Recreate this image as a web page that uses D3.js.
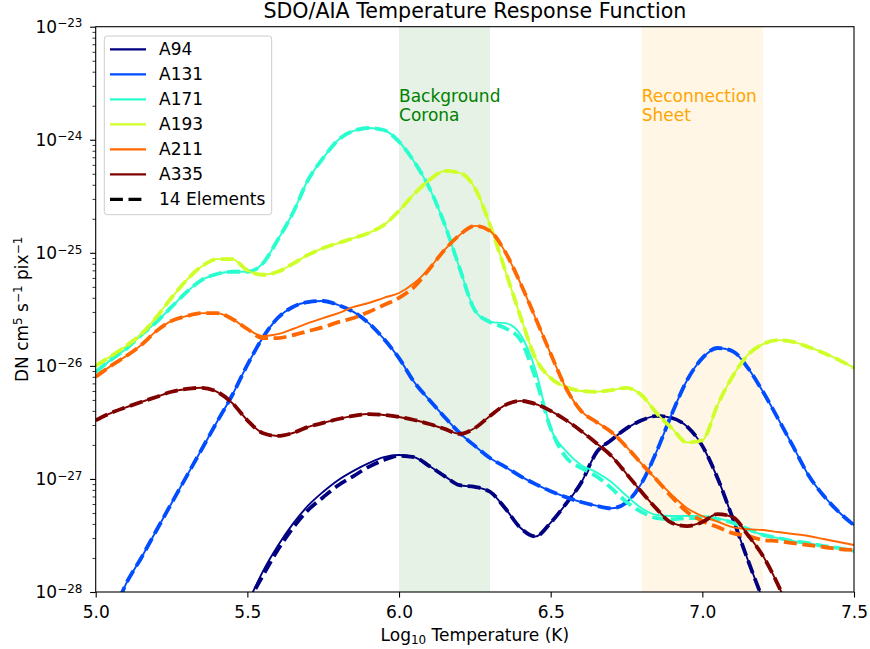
<!DOCTYPE html>
<html>
<head>
<meta charset="utf-8">
<script src="https://cdn.jsdelivr.net/npm/d3@7"></script>
<style>
  html, body { margin: 0; padding: 0; background: #fff; }
  svg { display: block; font-family: "DejaVu Sans", sans-serif; }
</style>
</head>
<body>
<svg id="chart" width="870" height="649"></svg>
<script>
// ---- Data ----
const logT = [5.00,5.05,5.10,5.15,5.20,5.25,5.30,5.35,5.40,5.45,5.50,5.55,5.60,5.65,5.70,5.75,5.80,5.85,5.90,5.95,
              6.00,6.05,6.10,6.15,6.20,6.25,6.30,6.35,6.40,6.45,6.50,6.55,6.60,6.65,6.70,6.75,6.80,6.85,6.90,6.95,
              7.00,7.05,7.10,7.15,7.20,7.25,7.30,7.35,7.40,7.45,7.50];

const channels = ["A94","A131","A171","A193","A211","A335"];
const channelColors = ["#000080","#004cff","#29ffce","#ceff29","#ff6800","#800000"];

const A94 = [null,null,null,null,null,null,null,null,null,3.8e-29,7.8e-29,1.5e-28,2.55e-28,4.0e-28,5.8e-28,7.7e-28,9.8e-28,1.18e-27,1.38e-27,1.56e-27,
             1.63e-27,1.56e-27,1.3e-27,1.06e-27,8.8e-28,8.5e-28,7.7e-28,5.5e-28,3.7e-28,3.1e-28,4.1e-28,6.0e-28,9.2e-28,1.7e-27,2.21e-27,2.8e-27,3.3e-27,3.61e-27,3.46e-27,2.9e-27,
             1.96e-27,1.02e-27,4.5e-28,1.92e-28,8.5e-29,3.8e-29,null,null,null,null,null];
const A94_14el = [null,null,null,null,null,null,null,null,null,3.8e-29,7.8e-29,1.38e-28,2.35e-28,3.68e-28,5.3e-28,6.9e-28,8.8e-28,1.06e-27,1.28e-27,1.47e-27,
             1.6e-27,1.56e-27,1.3e-27,1.06e-27,8.8e-28,8.5e-28,7.7e-28,5.5e-28,3.7e-28,3.1e-28,4.1e-28,6.0e-28,9.2e-28,1.7e-27,2.21e-27,2.8e-27,3.3e-27,3.61e-27,3.46e-27,2.9e-27,
             1.96e-27,1.02e-27,4.5e-28,1.92e-28,8.5e-29,3.8e-29,null,null,null,null,null];

const A131 = [3.1e-29,5.7e-29,1.18e-28,2.0e-28,3.5e-28,6.1e-28,1.06e-27,1.84e-27,3.2e-27,5.5e-27,1.02e-26,1.76e-26,2.65e-26,3.32e-26,3.67e-26,3.75e-26,3.45e-26,3.0e-26,2.39e-26,1.73e-26,
              1.17e-26,7.2e-27,5.0e-27,3.53e-27,2.55e-27,1.96e-27,1.53e-27,1.28e-27,1.06e-27,9.0e-28,7.8e-28,6.9e-28,6.25e-28,5.8e-28,5.5e-28,6.2e-28,9.2e-28,1.77e-27,3.8e-27,7.5e-27,
              1.17e-26,1.44e-26,1.35e-26,9.6e-27,5.9e-27,3.4e-27,1.92e-27,1.08e-27,7.1e-28,5.1e-28,3.9e-28];
const A131_14el = A131;

const A171 = [8.8e-27,1.13e-26,1.41e-26,1.87e-26,2.44e-26,3.32e-26,4.5e-26,5.75e-26,6.5e-26,6.8e-26,6.8e-26,8.0e-26,1.3e-25,2.25e-25,4.4e-25,6.9e-25,1.0e-24,1.2e-24,1.27e-24,1.22e-24,
              9.6e-25,6.4e-25,3.75e-25,1.8e-25,7.3e-26,3.1e-26,2.44e-26,2.39e-26,1.9e-26,9.2e-27,2.8e-27,1.77e-27,1.33e-27,1.15e-27,9.4e-28,7.1e-28,5.5e-28,4.8e-28,4.7e-28,4.7e-28,
              4.7e-28,4.5e-28,4.1e-28,3.6e-28,3.2e-28,3.0e-28,2.82e-28,2.7e-28,2.55e-28,2.45e-28,2.3e-28];
const A171_14el = [8.8e-27,1.13e-26,1.41e-26,1.87e-26,2.44e-26,3.32e-26,4.5e-26,5.75e-26,6.5e-26,6.8e-26,6.8e-26,8.0e-26,1.3e-25,2.25e-25,4.4e-25,6.9e-25,1.0e-24,1.2e-24,1.27e-24,1.22e-24,
              9.6e-25,6.4e-25,3.75e-25,1.8e-25,7.3e-26,3.1e-26,2.44e-26,2.16e-26,1.7e-26,7.8e-27,2.8e-27,1.56e-27,1.25e-27,1.06e-27,8.3e-28,6.25e-28,5.1e-28,4.5e-28,4.4e-28,4.5e-28,
              4.5e-28,4.4e-28,4.1e-28,3.6e-28,3.2e-28,3.0e-28,2.82e-28,2.7e-28,2.55e-28,2.45e-28,2.3e-28];

const A193 = [1.0e-26,1.22e-26,1.5e-26,1.91e-26,2.7e-26,4.0e-26,5.75e-26,7.6e-26,8.8e-26,8.8e-26,7.0e-26,6.4e-26,6.8e-26,8.0e-26,9.6e-26,1.1e-25,1.22e-25,1.35e-25,1.5e-25,1.76e-25,
              2.35e-25,3.32e-25,4.41e-25,5.3e-25,5.1e-25,3.75e-25,1.76e-25,7.0e-26,2.76e-26,1.17e-26,7.8e-27,6.5e-27,6.0e-27,5.9e-27,6.1e-27,6.4e-27,5.5e-27,3.8e-27,2.8e-27,2.1e-27,
              2.2e-27,4.5e-27,8.1e-27,1.25e-26,1.56e-26,1.69e-26,1.63e-26,1.47e-26,1.3e-26,1.13e-26,9.6e-27];
const A193_14el = A193;

const A211 = [8.0e-27,1.0e-26,1.22e-26,1.53e-26,2.03e-26,2.5e-26,2.76e-26,2.93e-26,2.93e-26,2.6e-26,2.12e-26,1.84e-26,1.91e-26,2.12e-26,2.39e-26,2.65e-26,2.93e-26,3.32e-26,3.6e-26,4.0e-26,
              4.41e-26,5.4e-26,7.3e-26,1.06e-25,1.44e-25,1.73e-25,1.56e-25,1.02e-25,5.4e-26,2.65e-26,1.28e-26,6.4e-27,4.0e-27,3.2e-27,2.6e-27,1.92e-27,1.36e-27,9.8e-28,7.2e-28,5.5e-28,
              4.7e-28,4.2e-28,3.75e-28,3.6e-28,3.53e-28,3.39e-28,3.26e-28,3.13e-28,2.94e-28,2.77e-28,2.6e-28];
const A211_14el = [8.0e-27,1.0e-26,1.22e-26,1.53e-26,2.03e-26,2.5e-26,2.76e-26,2.93e-26,2.93e-26,2.6e-26,2.12e-26,1.76e-26,1.76e-26,1.87e-26,2.03e-26,2.2e-26,2.44e-26,2.65e-26,3.0e-26,3.45e-26,
              4.0e-26,5.0e-26,7.2e-26,1.06e-25,1.44e-25,1.73e-25,1.56e-25,1.02e-25,5.4e-26,2.65e-26,1.28e-26,6.4e-27,4.0e-27,3.2e-27,2.6e-27,1.92e-27,1.36e-27,9.8e-28,6.9e-28,5.1e-28,
              4.25e-28,3.75e-28,3.32e-28,3.13e-28,2.88e-28,2.82e-28,2.7e-28,2.6e-28,2.5e-28,2.4e-28,2.35e-28];

const A335 = [3.3e-27,3.83e-27,4.3e-27,4.79e-27,5.31e-27,5.9e-27,6.25e-27,6.4e-27,5.9e-27,4.7e-27,3.3e-27,2.55e-27,2.4e-27,2.55e-27,2.88e-27,3.13e-27,3.39e-27,3.61e-27,3.75e-27,3.68e-27,
              3.53e-27,3.32e-27,3.06e-27,2.77e-27,2.5e-27,2.82e-27,3.61e-27,4.5e-27,4.9e-27,4.6e-27,4.0e-27,3.32e-27,2.66e-27,2.08e-27,1.6e-27,1.11e-27,7.66e-28,5.4e-28,4.07e-28,3.83e-28,
              4.16e-28,4.89e-28,4.6e-28,3.19e-28,2.08e-28,1.15e-28,5.65e-29,null,null,null,null];
const A335_14el = A335;

const solidSeries = [A94, A131, A171, A193, A211, A335];
const dashedSeries = [A94_14el, A131_14el, A171_14el, A193_14el, A211_14el, A335_14el];

const xTicks = [5.0, 5.5, 6.0, 6.5, 7.0, 7.5];
const yDecades = [-28, -27, -26, -25, -24, -23];
const bands = [
  {from: 6.0, to: 6.3, fill: "green", lines: ["Background", "Corona"]},
  {from: 6.8, to: 7.2, fill: "orange", lines: ["Reconnection", "Sheet"]}
];

// ---- Layout ----
const FS = 17;
const svg = d3.select("#chart");
const L = 95.7, R = 854, T = 26.7, B = 592;
const x = d3.scaleLinear().domain([5.0, 7.5]).range([L, R]);
const y = d3.scaleLog().domain([1e-28, 1e-23]).range([B, T]);

svg.append("defs").append("clipPath").attr("id", "clip")
  .append("rect").attr("x", L).attr("y", T).attr("width", R - L).attr("height", B - T);

const plot = svg.append("g").attr("clip-path", "url(#clip)");

// shaded bands
bands.forEach(b => {
  plot.append("rect")
    .attr("x", x(b.from)).attr("y", T)
    .attr("width", x(b.to) - x(b.from)).attr("height", B - T)
    .attr("fill", b.fill).attr("fill-opacity", 0.1);
});

// band labels
bands.forEach(b => {
  const t = svg.append("text").attr("x", x(b.from)).attr("y", 101.5)
    .attr("font-size", FS).attr("fill", b.fill);
  b.lines.forEach((ln, i) => {
    t.append("tspan").attr("x", x(b.from)).attr("dy", i === 0 ? 0 : 19.5).text(ln);
  });
});

// lines
const line = d3.line()
  .defined(d => d[1] != null)
  .x(d => x(d[0]))
  .y(d => y(d[1]))
  .curve(d3.curveMonotoneX);

channels.forEach((c, i) => {
  plot.append("path")
    .datum(logT.map((t, j) => [t, solidSeries[i][j]]))
    .attr("d", line)
    .attr("fill", "none")
    .attr("stroke", channelColors[i])
    .attr("stroke-width", 1.9)
    .attr("stroke-linejoin", "round");
  plot.append("path")
    .datum(logT.map((t, j) => [t, dashedSeries[i][j]]))
    .attr("d", line)
    .attr("fill", "none")
    .attr("stroke", channelColors[i])
    .attr("stroke-width", 3.8)
    .attr("stroke-dasharray", "13,5.6");
});

// frame
svg.append("rect").attr("x", L).attr("y", T).attr("width", R - L).attr("height", B - T)
  .attr("fill", "none").attr("stroke", "#000").attr("stroke-width", 1.1);

// x axis
const xAxis = svg.append("g").attr("transform", `translate(0,${B})`)
  .call(d3.axisBottom(x).tickValues(xTicks).tickFormat(d3.format(".1f")).tickSize(5.6).tickPadding(8));
xAxis.select(".domain").remove();
xAxis.selectAll("text").attr("font-size", FS).attr("font-family", "DejaVu Sans").attr("fill", "#000");
xAxis.selectAll("line").attr("stroke", "#000").attr("stroke-width", 1.1);

// y axis major ticks
const majorVals = yDecades.map(e => Math.pow(10, e));
const yAxis = svg.append("g").attr("transform", `translate(${L},0)`)
  .call(d3.axisLeft(y).tickValues(majorVals).tickFormat("").tickSize(5.6));
yAxis.select(".domain").remove();
yAxis.selectAll("line").attr("stroke", "#000").attr("stroke-width", 1.1);

// y axis minor ticks
const minorVals = [];
yDecades.slice(0, -1).forEach(e => { for (let m = 2; m <= 9; m++) minorVals.push(m * Math.pow(10, e)); });
const yMinor = svg.append("g").attr("transform", `translate(${L},0)`)
  .call(d3.axisLeft(y).tickValues(minorVals).tickFormat("").tickSize(3.2));
yMinor.select(".domain").remove();
yMinor.selectAll("line").attr("stroke", "#000").attr("stroke-width", 0.8);

// y tick labels: 10^e
yDecades.forEach(e => {
  const t = svg.append("text")
    .attr("x", 82.5).attr("y", y(Math.pow(10, e)) + 6.2)
    .attr("text-anchor", "end").attr("font-size", FS).attr("fill", "#000");
  t.append("tspan").text("10");
  t.append("tspan").attr("dy", -5.5).attr("font-size", 12).text("\u2212" + Math.abs(e));
});

// title
svg.append("text").attr("x", (L + R) / 2).attr("y", 17.5).attr("text-anchor", "middle")
  .attr("font-size", 20.6).attr("fill", "#000").text("SDO/AIA Temperature Response Function");

// x label
const xl = svg.append("text").attr("x", (L + R) / 2).attr("y", 640.7).attr("text-anchor", "middle")
  .attr("font-size", FS).attr("fill", "#000");
xl.append("tspan").text("Log");
xl.append("tspan").attr("dy", 3).attr("font-size", 12).text("10");
xl.append("tspan").attr("dy", -3).text(" Temperature (K)");

// y label
const yl = svg.append("text").attr("transform", `translate(28,${(T + B) / 2}) rotate(-90)`)
  .attr("text-anchor", "middle").attr("font-size", FS).attr("fill", "#000");
yl.append("tspan").text("DN cm");
yl.append("tspan").attr("dy", -6.5).attr("font-size", 12).text("5");
yl.append("tspan").attr("dy", 6.5).text(" s");
yl.append("tspan").attr("dy", -6.5).attr("font-size", 12).text("\u22121");
yl.append("tspan").attr("dy", 6.5).text(" pix");
yl.append("tspan").attr("dy", -6.5).attr("font-size", 12).text("\u22121");

// legend
const lg = svg.append("g");
lg.append("rect").attr("x", 104.3).attr("y", 36).attr("width", 167.4).attr("height", 178.7)
  .attr("rx", 3).attr("fill", "#fff").attr("fill-opacity", 0.8)
  .attr("stroke", "#cccccc").attr("stroke-width", 1);
const legendItems = channels.map((c, i) => ({label: c, color: channelColors[i], dash: null, w: 2.2}))
  .concat([{label: "14 Elements", color: "#000", dash: "12.9,5.6", w: 3.3}]);
legendItems.forEach((it, i) => {
  const cy = 49.3 + i * 25;
  lg.append("line").attr("x1", 110).attr("x2", 146).attr("y1", cy).attr("y2", cy)
    .attr("stroke", it.color).attr("stroke-width", it.w)
    .attr("stroke-dasharray", it.dash);
  lg.append("text").attr("x", 159).attr("y", cy + 6).attr("font-size", FS).attr("fill", "#000").text(it.label);
});
</script>
</body>
</html>
